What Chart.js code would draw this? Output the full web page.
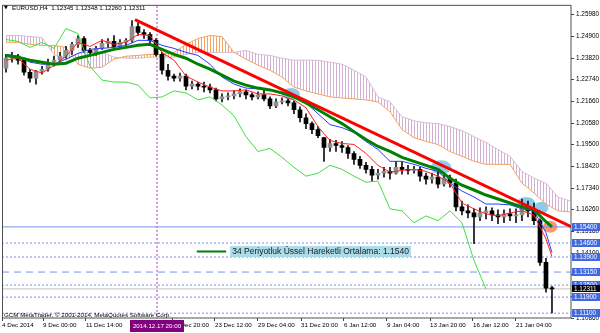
<!DOCTYPE html>
<html>
<head>
<meta charset="utf-8">
<script src="https://cdn.jsdelivr.net/npm/chart.js@4.4.1/dist/chart.umd.min.js"></script>
<style>
  html, body { margin: 0; padding: 0; background: #fff; }
</style>
</head>
<body>
<canvas id="c" width="600" height="333"></canvas>
<script>
// EURUSD H4 — candles (one candle per ~2 H4 bars), Ichimoku, EMA34, trend line, levels
var openP = [1.2331, 1.2381, 1.2391, 1.2371, 1.2311, 1.2282, 1.2316, 1.2326, 1.2361, 1.2371,
    1.2391, 1.2420, 1.2450, 1.2479, 1.2420, 1.2410, 1.2430, 1.2455, 1.2465, 1.2440,
    1.2460, 1.2470, 1.2539, 1.2509, 1.2499, 1.2470, 1.2400, 1.2321, 1.2292, 1.2282,
    1.2292, 1.2242, 1.2252, 1.2242, 1.2237, 1.2223, 1.2178, 1.2188, 1.2193, 1.2203,
    1.2213, 1.2198, 1.2188, 1.2198, 1.2178, 1.2143, 1.2163, 1.2168, 1.2158, 1.2124,
    1.2084, 1.2055, 1.2025, 1.1985, 1.1936, 1.1956, 1.1946, 1.1936, 1.1906, 1.1877,
    1.1847, 1.1827, 1.1798, 1.1808, 1.1817, 1.1808, 1.1837, 1.1827, 1.1822, 1.1827,
    1.1793, 1.1778, 1.1788, 1.1753, 1.1783, 1.1758, 1.1640, 1.1620, 1.1610, 1.1590,
    1.1610, 1.1620, 1.1600, 1.1590, 1.1605, 1.1595, 1.1600, 1.1640, 1.1620, 1.1571,
    1.1363, 1.1235];
var highP = [1.2400, 1.2410, 1.2400, 1.2381, 1.2326, 1.2321, 1.2341, 1.2376, 1.2391, 1.2410,
    1.2440, 1.2460, 1.2494, 1.2489, 1.2430, 1.2440, 1.2474, 1.2479, 1.2494, 1.2474,
    1.2479, 1.2568, 1.2558, 1.2524, 1.2509, 1.2479, 1.2410, 1.2351, 1.2302, 1.2307,
    1.2302, 1.2267, 1.2262, 1.2262, 1.2252, 1.2232, 1.2203, 1.2208, 1.2218, 1.2228,
    1.2223, 1.2208, 1.2213, 1.2223, 1.2188, 1.2178, 1.2183, 1.2178, 1.2168, 1.2139,
    1.2104, 1.2064, 1.2040, 1.1985, 1.1976, 1.1971, 1.1966, 1.1946, 1.1916, 1.1892,
    1.1862, 1.1842, 1.1827, 1.1837, 1.1837, 1.1867, 1.1867, 1.1847, 1.1842, 1.1837,
    1.1808, 1.1808, 1.1817, 1.1808, 1.1798, 1.1778, 1.1669, 1.1650, 1.1630, 1.1635,
    1.1640, 1.1635, 1.1625, 1.1625, 1.1630, 1.1630, 1.1679, 1.1669, 1.1659, 1.1580,
    1.1383, 1.1244];
var lowP = [1.2311, 1.2361, 1.2351, 1.2297, 1.2262, 1.2252, 1.2302, 1.2316, 1.2341, 1.2361,
    1.2381, 1.2400, 1.2435, 1.2410, 1.2391, 1.2395, 1.2425, 1.2435, 1.2425, 1.2435,
    1.2445, 1.2460, 1.2494, 1.2479, 1.2455, 1.2391, 1.2302, 1.2272, 1.2267, 1.2267,
    1.2223, 1.2228, 1.2223, 1.2213, 1.2208, 1.2168, 1.2163, 1.2173, 1.2178, 1.2188,
    1.2178, 1.2173, 1.2178, 1.2168, 1.2129, 1.2134, 1.2153, 1.2143, 1.2104, 1.2064,
    1.2030, 1.2005, 1.1985, 1.1867, 1.1916, 1.1916, 1.1911, 1.1882, 1.1852, 1.1832,
    1.1808, 1.1768, 1.1778, 1.1788, 1.1778, 1.1803, 1.1803, 1.1803, 1.1808, 1.1768,
    1.1753, 1.1758, 1.1734, 1.1743, 1.1738, 1.1620, 1.1600, 1.1585, 1.1457, 1.1571,
    1.1580, 1.1571, 1.1556, 1.1561, 1.1571, 1.1561, 1.1571, 1.1590, 1.1551, 1.1348,
    1.1215, 1.1111];
var closeP = [1.2381, 1.2391, 1.2371, 1.2311, 1.2282, 1.2316, 1.2326, 1.2361, 1.2371, 1.2391,
    1.2420, 1.2450, 1.2479, 1.2420, 1.2410, 1.2430, 1.2455, 1.2465, 1.2440, 1.2460,
    1.2470, 1.2539, 1.2509, 1.2499, 1.2470, 1.2400, 1.2321, 1.2292, 1.2282, 1.2292,
    1.2242, 1.2252, 1.2242, 1.2237, 1.2223, 1.2178, 1.2188, 1.2193, 1.2203, 1.2213,
    1.2198, 1.2188, 1.2198, 1.2178, 1.2143, 1.2163, 1.2168, 1.2158, 1.2124, 1.2084,
    1.2055, 1.2025, 1.1995, 1.1936, 1.1956, 1.1946, 1.1936, 1.1906, 1.1877, 1.1847,
    1.1827, 1.1798, 1.1808, 1.1817, 1.1808, 1.1837, 1.1827, 1.1822, 1.1827, 1.1793,
    1.1778, 1.1788, 1.1753, 1.1783, 1.1758, 1.1640, 1.1620, 1.1610, 1.1590, 1.1610,
    1.1620, 1.1600, 1.1590, 1.1605, 1.1595, 1.1600, 1.1640, 1.1620, 1.1571, 1.1363,
    1.1235, 1.1231];

// lines sampled every second candle (last sample = last candle)
var ema34 = [1.2395, 1.2386, 1.2371, 1.2361, 1.2351, 1.2356, 1.2381, 1.2395, 1.2410, 1.2425,
    1.2435, 1.2445, 1.2450, 1.2425, 1.2400, 1.2381, 1.2351, 1.2326, 1.2297, 1.2267,
    1.2247, 1.2232, 1.2223, 1.2208, 1.2188, 1.2158, 1.2124, 1.2089, 1.2055, 1.2015,
    1.1976, 1.1941, 1.1916, 1.1887, 1.1867, 1.1847, 1.1827, 1.1783, 1.1748, 1.1724,
    1.1699, 1.1679, 1.1659, 1.1640, 1.1625, 1.1566, 1.1540];
var tenkan = [1.2371, 1.2381, 1.2326, 1.2307, 1.2346, 1.2391, 1.2460, 1.2440, 1.2470, 1.2450,
    1.2460, 1.2499, 1.2494, 1.2410, 1.2371, 1.2292, 1.2262, 1.2237, 1.2218, 1.2218,
    1.2223, 1.2203, 1.2203, 1.2193, 1.2173, 1.2134, 1.2040, 1.1971, 1.1956, 1.1951,
    1.1906, 1.1847, 1.1813, 1.1822, 1.1827, 1.1817, 1.1793, 1.1758, 1.1659, 1.1630,
    1.1605, 1.1595, 1.1610, 1.1620, 1.1600, 1.1481, 1.1392];
var kijun = [1.2400, 1.2391, 1.2361, 1.2351, 1.2351, 1.2376, 1.2405, 1.2425, 1.2430, 1.2435,
    1.2445, 1.2470, 1.2470, 1.2445, 1.2430, 1.2410, 1.2395, 1.2351, 1.2287, 1.2252,
    1.2232, 1.2228, 1.2223, 1.2203, 1.2198, 1.2158, 1.2104, 1.2050, 1.2035, 1.2010,
    1.1966, 1.1926, 1.1867, 1.1867, 1.1852, 1.1832, 1.1817, 1.1758, 1.1719, 1.1689,
    1.1654, 1.1654, 1.1650, 1.1630, 1.1620, 1.1511, 1.1412];
var chikou = [1.2474, 1.2465, 1.2435, 1.2460, 1.2430, 1.2529, 1.2504, 1.2341, 1.2272, 1.2262,
    1.2262, 1.2247, 1.2183, 1.2188, 1.2218, 1.2208, 1.2173, 1.2188, 1.2148, 1.2094,
    1.1990, 1.1916, 1.1931, 1.1887, 1.1837, 1.1793, 1.1808, 1.1847, 1.1827, 1.1793,
    1.1763, 1.1768, 1.1630, 1.1620, 1.1561, 1.1595, 1.1571, 1.1620, 1.1561, 1.1373,
    1.1231];
var spanA = [1.2460, 1.2460, 1.2450, 1.2445, 1.2445, 1.2435, 1.2351, 1.2331, 1.2336, 1.2376,
    1.2391, 1.2395, 1.2400, 1.2400, 1.2410, 1.2450, 1.2479, 1.2494, 1.2489, 1.2410,
    1.2376, 1.2346, 1.2321, 1.2287, 1.2237, 1.2218, 1.2203, 1.2188, 1.2183, 1.2178,
    1.2173, 1.2163, 1.2114, 1.2025, 1.1985, 1.1966, 1.1951, 1.1916, 1.1892, 1.1867,
    1.1852, 1.1852, 1.1852, 1.1758, 1.1709, 1.1654, 1.1620, 1.1615];
var spanB = [1.2494, 1.2494, 1.2489, 1.2484, 1.2400, 1.2371, 1.2405, 1.2410, 1.2410, 1.2386,
    1.2381, 1.2381, 1.2386, 1.2386, 1.2386, 1.2400, 1.2410, 1.2410, 1.2410, 1.2410,
    1.2420, 1.2400, 1.2395, 1.2381, 1.2371, 1.2371, 1.2371, 1.2361, 1.2351, 1.2321,
    1.2287, 1.2188, 1.2163, 1.2089, 1.2069, 1.2059, 1.2055, 1.2040, 1.2020, 1.1990,
    1.1961, 1.1926, 1.1892, 1.1817, 1.1783, 1.1758, 1.1689, 1.1669];

var trendBars = [21.5, 94.2];
var trendPrices = [1.2573, 1.1541];

var levelPrices = [1.1540, 1.1460, 1.1390, 1.1315, 1.1250, 1.1190, 1.1110];
var bidPrice = 1.12311;

var yTicks = [1.1086, 1.1194, 1.1302, 1.1410, 1.1518, 1.1626, 1.1734, 1.1842, 1.1950,
    1.2058, 1.2166, 1.2274, 1.2382, 1.2490, 1.2598];
var xTickBars = [-0.667, 6.17, 13.33, 27.67, 34.83, 42.0, 49.17, 56.33, 63.5, 70.67, 77.83, 85.0];
var xTickLabels = ['4 Dec 2014', '9 Dec 00:00', '11 Dec 14:00', '18 Dec 20:00', '23 Dec 12:00',
    '29 Dec 04:00', '31 Dec 20:00', '6 Jan 12:00', '9 Jan 04:00', '13 Jan 20:00',
    '16 Jan 12:00', '21 Jan 04:00'];

// chart objects
var periodBar = 25.17;
var periodLabel = '2014.12.17 20:00';
var ellipseBars = [47.5, 72.5, 86.7, 89.2, 90.7];
var ellipsePrices = [1.2203, 1.1837, 1.1659, 1.1635, 1.1541];
var ellipseHalfBars = [1.5, 1.7, 1.5, 1.2, 1.2];
var ellipseHalfPrice = [0.0030, 0.0035, 0.0030, 0.0030, 0.0030];
var legendBars = [31.8, 36.7, 37.7];
var legendPrice = 1.1422;
var legendText = '34 Periyotluk \u00dcssel Hareketli Ortalama: 1.1540';

var xMin = -0.667, xMax = 94.17;
var yMin = 1.1086, yMax = 1.2642;

(function () {
    'use strict';

    var canvas = document.getElementById('c');
    var ctx = canvas.getContext('2d');
    var FONT = 'Liberation Sans, Arial, sans-serif';

    function hatch(color) {
        var c = document.createElement('canvas');
        c.width = 3;
        c.height = 3;
        var g = c.getContext('2d');
        g.fillStyle = color;
        g.fillRect(0, 0, 1, 3);
        return ctx.createPattern(c, 'repeat');
    }

    function every2(arr) {
        return arr.map(function (v, j) { return { x: Math.min(2 * j, openP.length - 1), y: v }; });
    }

    var levelDash = [[], [2, 2], [2, 2], [7, 5], [2, 2], [2, 2], [2, 2]];
    var ellipseColors = ['rgba(120,195,230,0.85)', 'rgba(120,195,230,0.85)', 'rgba(120,195,230,0.85)',
        'rgba(120,195,230,0.85)', 'rgba(245,125,80,0.8)'];

    var bodyColors = openP.map(function (o, i) { return closeP[i] > o ? '#8f8f8f' : '#000000'; });

    var datasets = [
        { type: 'line', data: trendBars.map(function (b, i) { return { x: b, y: trendPrices[i] }; }),
          borderColor: '#ff0000', borderWidth: 3, pointRadius: 0, order: 1 },
        { type: 'line', data: every2(ema34), borderColor: '#008000', borderWidth: 3, pointRadius: 0, order: 2 },
        { type: 'line', data: every2(tenkan), borderColor: '#ff2020', borderWidth: 1, pointRadius: 0, order: 3 },
        { type: 'line', data: every2(kijun), borderColor: '#2a3cff', borderWidth: 1, pointRadius: 0, order: 4 },
        { type: 'line', data: chikou.map(function (v, j) { return { x: 2 * j, y: v }; }),
          borderColor: '#3fe03f', borderWidth: 1, pointRadius: 0, order: 5 },
        { type: 'bar', data: openP.map(function (o, i) { return { x: i, y: [o, closeP[i]] }; }),
          backgroundColor: bodyColors, barThickness: 4, minBarLength: 1, grouped: false, order: 6 },
        { type: 'bar', data: openP.map(function (o, i) { return { x: i, y: [lowP[i], highP[i]] }; }),
          backgroundColor: '#111111', barThickness: 1, grouped: false, order: 7 }
    ];

    levelPrices.forEach(function (p, i) {
        datasets.push({ type: 'line', data: [{ x: xMin, y: p }, { x: xMax, y: p }],
            borderColor: '#7890ec', borderWidth: 1, borderDash: levelDash[i], pointRadius: 0, order: 8 });
    });
    datasets.push({ type: 'line', data: [{ x: xMin, y: bidPrice }, { x: xMax, y: bidPrice }],
        borderColor: '#c0c0c0', borderWidth: 1, pointRadius: 0, order: 8 });

    var idxB = datasets.length + 1;
    datasets.push({ type: 'line', data: spanA.map(function (v, j) { return { x: 2 * j, y: v }; }),
        borderColor: '#f4a460', borderWidth: 1, pointRadius: 0, order: 20,
        fill: { target: idxB, above: hatch('#f4a460'), below: hatch('#d2b0d4') } });
    datasets.push({ type: 'line', data: spanB.map(function (v, j) { return { x: 2 * j, y: v }; }),
        borderColor: '#d8bfd8', borderWidth: 1, pointRadius: 0, order: 21 });

    function box(text, xl, yc, w, h, bg, fg, size) {
        ctx.fillStyle = bg;
        ctx.fillRect(xl, Math.round(yc - h / 2), w, h);
        ctx.fillStyle = fg;
        ctx.font = size + 'px ' + FONT;
        ctx.textBaseline = 'middle';
        ctx.textAlign = 'left';
        ctx.fillText(text, xl + 2, yc + 0.5);
    }

    var overlay = {
        id: 'overlay',
        beforeDatasetsDraw: function (chart) {
            var a = chart.chartArea, x = chart.scales.x, y = chart.scales.y;
            ctx.save();
            ctx.beginPath();
            ctx.rect(a.left, a.top, a.right - a.left, a.bottom - a.top);
            ctx.clip();
            var px = Math.round(x.getPixelForValue(periodBar));
            ctx.strokeStyle = '#d49ad8';
            ctx.lineWidth = 2;
            ctx.setLineDash([2, 2]);
            ctx.beginPath();
            ctx.moveTo(px, a.top);
            ctx.lineTo(px, a.bottom);
            ctx.stroke();
            ctx.setLineDash([]);
            ellipseBars.forEach(function (b, i) {
                var cx = x.getPixelForValue(b), cy = y.getPixelForValue(ellipsePrices[i]);
                var rx = Math.abs(x.getPixelForValue(b + ellipseHalfBars[i]) - cx);
                var ry = Math.abs(y.getPixelForValue(ellipsePrices[i] + ellipseHalfPrice[i]) - cy);
                ctx.fillStyle = ellipseColors[i];
                ctx.beginPath();
                ctx.ellipse(cx, cy, rx, ry, 0, 0, Math.PI * 2);
                ctx.fill();
            });
            ctx.restore();
        },
        afterDraw: function (chart) {
            var a = chart.chartArea, x = chart.scales.x, y = chart.scales.y;
            ctx.save();
            // frame
            ctx.strokeStyle = '#505050';
            ctx.lineWidth = 1;
            ctx.strokeRect(a.left + 0.5, a.top - 0.5, a.right - a.left - 0.5, a.bottom - a.top + 0.5);

            // header
            ctx.fillStyle = '#000';
            ctx.textBaseline = 'middle';
            ctx.textAlign = 'left';
            ctx.font = '5px DejaVu Sans';
            ctx.fillText('\u25bc', 4, 8);
            ctx.font = '6.2px ' + FONT;
            ctx.fillText('EURUSD,H4  1.12345 1.12348 1.12260 1.12311', 12, 8.5);

            // copyright
            ctx.fillText('GCM MetaTrader, \u00a9 2001-2014, MetaQuotes Software Corp.', 4, 315.5);

            // EMA legend object
            var ly = Math.round(y.getPixelForValue(legendPrice)) + 0.5;
            ctx.strokeStyle = '#008000';
            ctx.lineWidth = 2;
            ctx.beginPath();
            ctx.moveTo(x.getPixelForValue(legendBars[0]), ly);
            ctx.lineTo(x.getPixelForValue(legendBars[1]), ly);
            ctx.stroke();
            ctx.font = '8.5px ' + FONT;
            var tx = x.getPixelForValue(legendBars[2]);
            var tw = ctx.measureText(legendText).width;
            ctx.fillStyle = '#aadcea';
            ctx.fillRect(tx - 2, ly - 5.5, tw + 4, 11);
            ctx.fillStyle = '#1a1a1a';
            ctx.fillText(legendText, tx, ly + 0.5);

            // price level labels
            levelPrices.forEach(function (p) {
                box(p.toFixed(5), a.right + 1, y.getPixelForValue(p), 29, 8, '#4169e1', '#ffffff', 6.4);
            });
            box(bidPrice.toFixed(5), a.right + 1, y.getPixelForValue(bidPrice), 29, 7, '#000000', '#ffffff', 6.4);

            // crosshair date label
            var px = x.getPixelForValue(periodBar);
            ctx.font = '6.2px ' + FONT;
            var dw = ctx.measureText(periodLabel).width + 6;
            ctx.fillStyle = '#800080';
            ctx.fillRect(Math.round(px - dw / 2), a.bottom + 2, Math.round(dw), 12);
            ctx.fillStyle = '#ffffff';
            ctx.textAlign = 'center';
            ctx.fillText(periodLabel, px, a.bottom + 8.5);
            ctx.restore();
        }
    };

    new Chart(canvas, {
        type: 'line',
        data: { datasets: datasets },
        options: {
            responsive: false,
            animation: false,
            events: [],
            layout: { padding: { left: 2, top: 3, right: 0, bottom: 0 } },
            plugins: {
                legend: { display: false },
                tooltip: { enabled: false }
            },
            scales: {
                x: {
                    type: 'linear',
                    min: xMin,
                    max: xMax,
                    offset: false,
                    border: { display: false },
                    grid: { drawOnChartArea: false, drawTicks: true, tickLength: 3, color: '#404040', offset: false },
                    ticks: {
                        autoSkip: false,
                        maxRotation: 0,
                        align: 'start',
                        padding: 1,
                        color: '#000',
                        font: { family: FONT, size: 6.2 },
                        callback: function (v, i) { return xTickLabels[i]; }
                    },
                    afterBuildTicks: function (s) { s.ticks = xTickBars.map(function (v) { return { value: v }; }); },
                    afterFit: function (s) { s.height = 15; }
                },
                y: {
                    type: 'linear',
                    position: 'right',
                    min: yMin,
                    max: yMax,
                    border: { display: false },
                    grid: { drawOnChartArea: false, drawTicks: true, tickLength: 3, color: '#404040' },
                    ticks: {
                        padding: 2,
                        color: '#000',
                        font: { family: FONT, size: 6.4 },
                        callback: function (v) { return Number(v).toFixed(5); }
                    },
                    afterBuildTicks: function (s) { s.ticks = yTicks.map(function (v) { return { value: v }; }); },
                    afterFit: function (s) { s.width = 29; }
                }
            }
        },
        plugins: [overlay]
    });
})();
</script>
</body>
</html>
